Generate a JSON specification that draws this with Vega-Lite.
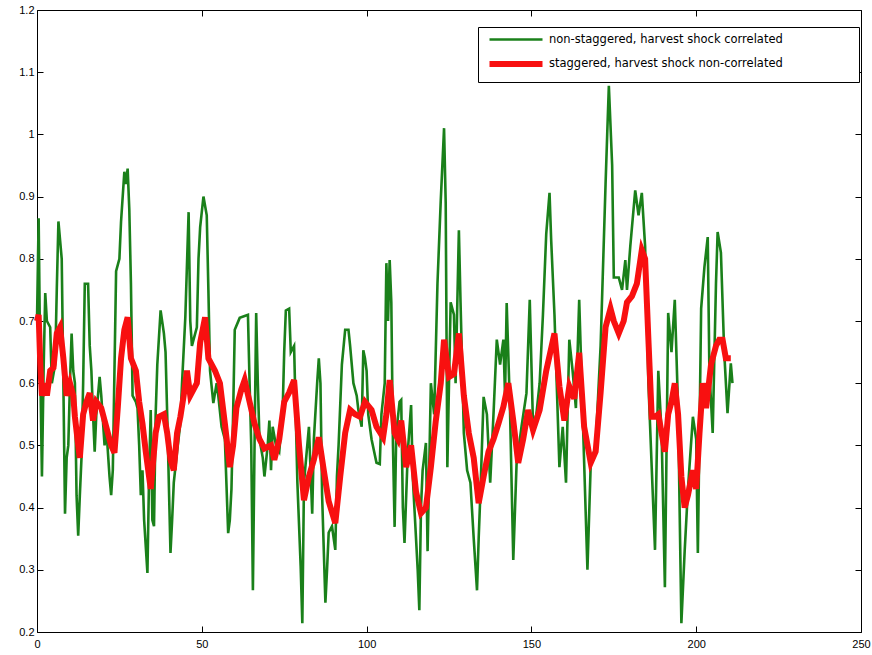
{
"$schema":"https://vega.github.io/schema/vega-lite/v6.json",
"width":824,"height":622,"autosize":"none",
"padding":{"left":37,"top":10,"right":11,"bottom":23},
"background":"white",
"config":{"view":{"stroke":null},"axis":{"grid":false,"domainColor":"#000","domainWidth":1,"tickColor":"#000","tickSize":-6,"tickWidth":1,"labelFont":"Liberation Sans","labelFontSize":11,"labelColor":"#000","title":null}},
"datasets":{"d":[
{"s":"non-staggered, harvest shock correlated","t":0,"v":0.70},{"s":"non-staggered, harvest shock correlated","t":0.5,"v":0.865},{"s":"non-staggered, harvest shock correlated","t":1,"v":0.62},{"s":"non-staggered, harvest shock correlated","t":1.5,"v":0.45},{"s":"non-staggered, harvest shock correlated","t":2,"v":0.62},{"s":"non-staggered, harvest shock correlated","t":2.5,"v":0.745},{"s":"non-staggered, harvest shock correlated","t":3,"v":0.70},{"s":"non-staggered, harvest shock correlated","t":4,"v":0.69},{"s":"non-staggered, harvest shock correlated","t":4.5,"v":0.60},{"s":"non-staggered, harvest shock correlated","t":5.5,"v":0.63},{"s":"non-staggered, harvest shock correlated","t":6,"v":0.75},{"s":"non-staggered, harvest shock correlated","t":6.5,"v":0.86},{"s":"non-staggered, harvest shock correlated","t":7,"v":0.83},{"s":"non-staggered, harvest shock correlated","t":7.5,"v":0.80},{"s":"non-staggered, harvest shock correlated","t":8,"v":0.60},{"s":"non-staggered, harvest shock correlated","t":8.5,"v":0.39},{"s":"non-staggered, harvest shock correlated","t":9,"v":0.48},{"s":"non-staggered, harvest shock correlated","t":9.5,"v":0.50},{"s":"non-staggered, harvest shock correlated","t":10,"v":0.60},{"s":"non-staggered, harvest shock correlated","t":10.5,"v":0.68},{"s":"non-staggered, harvest shock correlated","t":11,"v":0.62},{"s":"non-staggered, harvest shock correlated","t":11.5,"v":0.60},{"s":"non-staggered, harvest shock correlated","t":12,"v":0.42},{"s":"non-staggered, harvest shock correlated","t":12.5,"v":0.355},{"s":"non-staggered, harvest shock correlated","t":13,"v":0.42},{"s":"non-staggered, harvest shock correlated","t":13.5,"v":0.48},{"s":"non-staggered, harvest shock correlated","t":14,"v":0.60},{"s":"non-staggered, harvest shock correlated","t":14.5,"v":0.76},{"s":"non-staggered, harvest shock correlated","t":15,"v":0.76},{"s":"non-staggered, harvest shock correlated","t":15.5,"v":0.76},{"s":"non-staggered, harvest shock correlated","t":16,"v":0.66},{"s":"non-staggered, harvest shock correlated","t":16.5,"v":0.62},{"s":"non-staggered, harvest shock correlated","t":17,"v":0.55},{"s":"non-staggered, harvest shock correlated","t":17.5,"v":0.49},{"s":"non-staggered, harvest shock correlated","t":18,"v":0.55},{"s":"non-staggered, harvest shock correlated","t":19,"v":0.61},{"s":"non-staggered, harvest shock correlated","t":19.5,"v":0.58},{"s":"non-staggered, harvest shock correlated","t":20.5,"v":0.50},{"s":"non-staggered, harvest shock correlated","t":21,"v":0.53},{"s":"non-staggered, harvest shock correlated","t":22,"v":0.45},{"s":"non-staggered, harvest shock correlated","t":22.5,"v":0.42},{"s":"non-staggered, harvest shock correlated","t":23,"v":0.46},{"s":"non-staggered, harvest shock correlated","t":24,"v":0.78},{"s":"non-staggered, harvest shock correlated","t":25,"v":0.80},{"s":"non-staggered, harvest shock correlated","t":25.5,"v":0.86},{"s":"non-staggered, harvest shock correlated","t":26.5,"v":0.94},{"s":"non-staggered, harvest shock correlated","t":27,"v":0.92},{"s":"non-staggered, harvest shock correlated","t":27.5,"v":0.945},{"s":"non-staggered, harvest shock correlated","t":28,"v":0.88},{"s":"non-staggered, harvest shock correlated","t":28.5,"v":0.76},{"s":"non-staggered, harvest shock correlated","t":29,"v":0.58},{"s":"non-staggered, harvest shock correlated","t":30,"v":0.57},{"s":"non-staggered, harvest shock correlated","t":30.5,"v":0.56},{"s":"non-staggered, harvest shock correlated","t":31,"v":0.50},{"s":"non-staggered, harvest shock correlated","t":31.5,"v":0.42},{"s":"non-staggered, harvest shock correlated","t":32,"v":0.46},{"s":"non-staggered, harvest shock correlated","t":32.5,"v":0.38},{"s":"non-staggered, harvest shock correlated","t":33.5,"v":0.295},{"s":"non-staggered, harvest shock correlated","t":34,"v":0.45},{"s":"non-staggered, harvest shock correlated","t":34.5,"v":0.557},{"s":"non-staggered, harvest shock correlated","t":35,"v":0.38},{"s":"non-staggered, harvest shock correlated","t":35.5,"v":0.37},{"s":"non-staggered, harvest shock correlated","t":36,"v":0.55},{"s":"non-staggered, harvest shock correlated","t":36.5,"v":0.63},{"s":"non-staggered, harvest shock correlated","t":37.5,"v":0.717},{"s":"non-staggered, harvest shock correlated","t":38.5,"v":0.68},{"s":"non-staggered, harvest shock correlated","t":39,"v":0.65},{"s":"non-staggered, harvest shock correlated","t":39.5,"v":0.55},{"s":"non-staggered, harvest shock correlated","t":40.5,"v":0.327},{"s":"non-staggered, harvest shock correlated","t":41,"v":0.38},{"s":"non-staggered, harvest shock correlated","t":41.5,"v":0.44},{"s":"non-staggered, harvest shock correlated","t":42.5,"v":0.49},{"s":"non-staggered, harvest shock correlated","t":43.5,"v":0.536},{"s":"non-staggered, harvest shock correlated","t":44,"v":0.60},{"s":"non-staggered, harvest shock correlated","t":45,"v":0.706},{"s":"non-staggered, harvest shock correlated","t":46,"v":0.875},{"s":"non-staggered, harvest shock correlated","t":46.5,"v":0.70},{"s":"non-staggered, harvest shock correlated","t":47,"v":0.66},{"s":"non-staggered, harvest shock correlated","t":47.5,"v":0.67},{"s":"non-staggered, harvest shock correlated","t":48.5,"v":0.69},{"s":"non-staggered, harvest shock correlated","t":49,"v":0.80},{"s":"non-staggered, harvest shock correlated","t":49.5,"v":0.851},{"s":"non-staggered, harvest shock correlated","t":50.5,"v":0.90},{"s":"non-staggered, harvest shock correlated","t":51.5,"v":0.87},{"s":"non-staggered, harvest shock correlated","t":52,"v":0.75},{"s":"non-staggered, harvest shock correlated","t":52.5,"v":0.62},{"s":"non-staggered, harvest shock correlated","t":53.5,"v":0.568},{"s":"non-staggered, harvest shock correlated","t":54.5,"v":0.60},{"s":"non-staggered, harvest shock correlated","t":55,"v":0.58},{"s":"non-staggered, harvest shock correlated","t":56,"v":0.53},{"s":"non-staggered, harvest shock correlated","t":57,"v":0.51},{"s":"non-staggered, harvest shock correlated","t":58,"v":0.359},{"s":"non-staggered, harvest shock correlated","t":58.5,"v":0.38},{"s":"non-staggered, harvest shock correlated","t":59,"v":0.43},{"s":"non-staggered, harvest shock correlated","t":59.5,"v":0.55},{"s":"non-staggered, harvest shock correlated","t":60,"v":0.686},{"s":"non-staggered, harvest shock correlated","t":61.5,"v":0.705},{"s":"non-staggered, harvest shock correlated","t":63,"v":0.708},{"s":"non-staggered, harvest shock correlated","t":64,"v":0.71},{"s":"non-staggered, harvest shock correlated","t":64.5,"v":0.60},{"s":"non-staggered, harvest shock correlated","t":65,"v":0.50},{"s":"non-staggered, harvest shock correlated","t":65.5,"v":0.267},{"s":"non-staggered, harvest shock correlated","t":66,"v":0.50},{"s":"non-staggered, harvest shock correlated","t":66.5,"v":0.713},{"s":"non-staggered, harvest shock correlated","t":67,"v":0.60},{"s":"non-staggered, harvest shock correlated","t":67.5,"v":0.51},{"s":"non-staggered, harvest shock correlated","t":68.5,"v":0.48},{"s":"non-staggered, harvest shock correlated","t":69,"v":0.45},{"s":"non-staggered, harvest shock correlated","t":70,"v":0.50},{"s":"non-staggered, harvest shock correlated","t":70.5,"v":0.54},{"s":"non-staggered, harvest shock correlated","t":71,"v":0.46},{"s":"non-staggered, harvest shock correlated","t":71.5,"v":0.53},{"s":"non-staggered, harvest shock correlated","t":72.5,"v":0.50},{"s":"non-staggered, harvest shock correlated","t":73.5,"v":0.49},{"s":"non-staggered, harvest shock correlated","t":74.5,"v":0.55},{"s":"non-staggered, harvest shock correlated","t":75,"v":0.65},{"s":"non-staggered, harvest shock correlated","t":75.5,"v":0.717},{"s":"non-staggered, harvest shock correlated","t":76.5,"v":0.72},{"s":"non-staggered, harvest shock correlated","t":77,"v":0.65},{"s":"non-staggered, harvest shock correlated","t":78,"v":0.66},{"s":"non-staggered, harvest shock correlated","t":78.5,"v":0.55},{"s":"non-staggered, harvest shock correlated","t":79,"v":0.44},{"s":"non-staggered, harvest shock correlated","t":80,"v":0.305},{"s":"non-staggered, harvest shock correlated","t":80.5,"v":0.214},{"s":"non-staggered, harvest shock correlated","t":81,"v":0.44},{"s":"non-staggered, harvest shock correlated","t":82,"v":0.50},{"s":"non-staggered, harvest shock correlated","t":82.5,"v":0.53},{"s":"non-staggered, harvest shock correlated","t":83.5,"v":0.39},{"s":"non-staggered, harvest shock correlated","t":84,"v":0.51},{"s":"non-staggered, harvest shock correlated","t":85,"v":0.60},{"s":"non-staggered, harvest shock correlated","t":85.5,"v":0.64},{"s":"non-staggered, harvest shock correlated","t":86,"v":0.60},{"s":"non-staggered, harvest shock correlated","t":86.5,"v":0.42},{"s":"non-staggered, harvest shock correlated","t":87.5,"v":0.247},{"s":"non-staggered, harvest shock correlated","t":88,"v":0.30},{"s":"non-staggered, harvest shock correlated","t":88.5,"v":0.36},{"s":"non-staggered, harvest shock correlated","t":89.5,"v":0.37},{"s":"non-staggered, harvest shock correlated","t":90.5,"v":0.332},{"s":"non-staggered, harvest shock correlated","t":91,"v":0.45},{"s":"non-staggered, harvest shock correlated","t":91.5,"v":0.50},{"s":"non-staggered, harvest shock correlated","t":92.5,"v":0.63},{"s":"non-staggered, harvest shock correlated","t":93.5,"v":0.686},{"s":"non-staggered, harvest shock correlated","t":94.5,"v":0.686},{"s":"non-staggered, harvest shock correlated","t":95,"v":0.66},{"s":"non-staggered, harvest shock correlated","t":96,"v":0.60},{"s":"non-staggered, harvest shock correlated","t":97,"v":0.58},{"s":"non-staggered, harvest shock correlated","t":97.5,"v":0.557},{"s":"non-staggered, harvest shock correlated","t":98.5,"v":0.53},{"s":"non-staggered, harvest shock correlated","t":99,"v":0.653},{"s":"non-staggered, harvest shock correlated","t":99.5,"v":0.64},{"s":"non-staggered, harvest shock correlated","t":100,"v":0.62},{"s":"non-staggered, harvest shock correlated","t":100.5,"v":0.55},{"s":"non-staggered, harvest shock correlated","t":101.5,"v":0.51},{"s":"non-staggered, harvest shock correlated","t":103,"v":0.472},{"s":"non-staggered, harvest shock correlated","t":104,"v":0.47},{"s":"non-staggered, harvest shock correlated","t":104.5,"v":0.55},{"s":"non-staggered, harvest shock correlated","t":105.5,"v":0.60},{"s":"non-staggered, harvest shock correlated","t":106,"v":0.793},{"s":"non-staggered, harvest shock correlated","t":106.5,"v":0.70},{"s":"non-staggered, harvest shock correlated","t":107,"v":0.798},{"s":"non-staggered, harvest shock correlated","t":107.5,"v":0.73},{"s":"non-staggered, harvest shock correlated","t":108,"v":0.50},{"s":"non-staggered, harvest shock correlated","t":108.5,"v":0.369},{"s":"non-staggered, harvest shock correlated","t":109,"v":0.52},{"s":"non-staggered, harvest shock correlated","t":110,"v":0.57},{"s":"non-staggered, harvest shock correlated","t":110.5,"v":0.573},{"s":"non-staggered, harvest shock correlated","t":111,"v":0.40},{"s":"non-staggered, harvest shock correlated","t":111.5,"v":0.343},{"s":"non-staggered, harvest shock correlated","t":112.5,"v":0.49},{"s":"non-staggered, harvest shock correlated","t":113.5,"v":0.565},{"s":"non-staggered, harvest shock correlated","t":114,"v":0.45},{"s":"non-staggered, harvest shock correlated","t":114.5,"v":0.40},{"s":"non-staggered, harvest shock correlated","t":115.5,"v":0.30},{"s":"non-staggered, harvest shock correlated","t":116,"v":0.235},{"s":"non-staggered, harvest shock correlated","t":116.5,"v":0.40},{"s":"non-staggered, harvest shock correlated","t":117,"v":0.46},{"s":"non-staggered, harvest shock correlated","t":118,"v":0.504},{"s":"non-staggered, harvest shock correlated","t":118.5,"v":0.33},{"s":"non-staggered, harvest shock correlated","t":119.5,"v":0.60},{"s":"non-staggered, harvest shock correlated","t":120.5,"v":0.55},{"s":"non-staggered, harvest shock correlated","t":121.5,"v":0.76},{"s":"non-staggered, harvest shock correlated","t":122.5,"v":0.894},{"s":"non-staggered, harvest shock correlated","t":123.5,"v":1.01},{"s":"non-staggered, harvest shock correlated","t":124,"v":0.89},{"s":"non-staggered, harvest shock correlated","t":124.5,"v":0.465},{"s":"non-staggered, harvest shock correlated","t":125,"v":0.60},{"s":"non-staggered, harvest shock correlated","t":125.5,"v":0.73},{"s":"non-staggered, harvest shock correlated","t":126.5,"v":0.71},{"s":"non-staggered, harvest shock correlated","t":127,"v":0.60},{"s":"non-staggered, harvest shock correlated","t":128,"v":0.846},{"s":"non-staggered, harvest shock correlated","t":128.5,"v":0.73},{"s":"non-staggered, harvest shock correlated","t":129.5,"v":0.52},{"s":"non-staggered, harvest shock correlated","t":130.5,"v":0.46},{"s":"non-staggered, harvest shock correlated","t":131.5,"v":0.44},{"s":"non-staggered, harvest shock correlated","t":132.5,"v":0.35},{"s":"non-staggered, harvest shock correlated","t":133.5,"v":0.267},{"s":"non-staggered, harvest shock correlated","t":134,"v":0.35},{"s":"non-staggered, harvest shock correlated","t":134.5,"v":0.42},{"s":"non-staggered, harvest shock correlated","t":135.5,"v":0.578},{"s":"non-staggered, harvest shock correlated","t":136.5,"v":0.55},{"s":"non-staggered, harvest shock correlated","t":137.5,"v":0.44},{"s":"non-staggered, harvest shock correlated","t":138.5,"v":0.55},{"s":"non-staggered, harvest shock correlated","t":139.5,"v":0.67},{"s":"non-staggered, harvest shock correlated","t":140.5,"v":0.63},{"s":"non-staggered, harvest shock correlated","t":141.5,"v":0.67},{"s":"non-staggered, harvest shock correlated","t":142,"v":0.58},{"s":"non-staggered, harvest shock correlated","t":142.5,"v":0.729},{"s":"non-staggered, harvest shock correlated","t":143.5,"v":0.56},{"s":"non-staggered, harvest shock correlated","t":144.5,"v":0.316},{"s":"non-staggered, harvest shock correlated","t":145.5,"v":0.47},{"s":"non-staggered, harvest shock correlated","t":147,"v":0.53},{"s":"non-staggered, harvest shock correlated","t":148.5,"v":0.584},{"s":"non-staggered, harvest shock correlated","t":149.5,"v":0.734},{"s":"non-staggered, harvest shock correlated","t":150.5,"v":0.53},{"s":"non-staggered, harvest shock correlated","t":151.5,"v":0.55},{"s":"non-staggered, harvest shock correlated","t":152.5,"v":0.60},{"s":"non-staggered, harvest shock correlated","t":153.5,"v":0.71},{"s":"non-staggered, harvest shock correlated","t":154.5,"v":0.84},{"s":"non-staggered, harvest shock correlated","t":155.5,"v":0.906},{"s":"non-staggered, harvest shock correlated","t":156,"v":0.83},{"s":"non-staggered, harvest shock correlated","t":157,"v":0.71},{"s":"non-staggered, harvest shock correlated","t":158.5,"v":0.465},{"s":"non-staggered, harvest shock correlated","t":159.5,"v":0.53},{"s":"non-staggered, harvest shock correlated","t":160.5,"v":0.44},{"s":"non-staggered, harvest shock correlated","t":161.5,"v":0.67},{"s":"non-staggered, harvest shock correlated","t":162.5,"v":0.62},{"s":"non-staggered, harvest shock correlated","t":163.5,"v":0.56},{"s":"non-staggered, harvest shock correlated","t":164.5,"v":0.734},{"s":"non-staggered, harvest shock correlated","t":165.5,"v":0.56},{"s":"non-staggered, harvest shock correlated","t":167,"v":0.30},{"s":"non-staggered, harvest shock correlated","t":168,"v":0.47},{"s":"non-staggered, harvest shock correlated","t":169.5,"v":0.50},{"s":"non-staggered, harvest shock correlated","t":171,"v":0.66},{"s":"non-staggered, harvest shock correlated","t":172.5,"v":0.92},{"s":"non-staggered, harvest shock correlated","t":173,"v":1.0},{"s":"non-staggered, harvest shock correlated","t":173.5,"v":1.078},{"s":"non-staggered, harvest shock correlated","t":174.5,"v":0.95},{"s":"non-staggered, harvest shock correlated","t":175,"v":0.77},{"s":"non-staggered, harvest shock correlated","t":176.5,"v":0.77},{"s":"non-staggered, harvest shock correlated","t":177.5,"v":0.75},{"s":"non-staggered, harvest shock correlated","t":178.5,"v":0.798},{"s":"non-staggered, harvest shock correlated","t":179,"v":0.75},{"s":"non-staggered, harvest shock correlated","t":180,"v":0.82},{"s":"non-staggered, harvest shock correlated","t":181.5,"v":0.91},{"s":"non-staggered, harvest shock correlated","t":182.5,"v":0.87},{"s":"non-staggered, harvest shock correlated","t":183.5,"v":0.906},{"s":"non-staggered, harvest shock correlated","t":184.5,"v":0.82},{"s":"non-staggered, harvest shock correlated","t":185.5,"v":0.60},{"s":"non-staggered, harvest shock correlated","t":186.5,"v":0.465},{"s":"non-staggered, harvest shock correlated","t":187.5,"v":0.332},{"s":"non-staggered, harvest shock correlated","t":188.5,"v":0.62},{"s":"non-staggered, harvest shock correlated","t":189.5,"v":0.52},{"s":"non-staggered, harvest shock correlated","t":190.5,"v":0.272},{"s":"non-staggered, harvest shock correlated","t":191.5,"v":0.713},{"s":"non-staggered, harvest shock correlated","t":192.5,"v":0.65},{"s":"non-staggered, harvest shock correlated","t":193.5,"v":0.734},{"s":"non-staggered, harvest shock correlated","t":194.5,"v":0.56},{"s":"non-staggered, harvest shock correlated","t":195.5,"v":0.214},{"s":"non-staggered, harvest shock correlated","t":196.5,"v":0.33},{"s":"non-staggered, harvest shock correlated","t":197.5,"v":0.43},{"s":"non-staggered, harvest shock correlated","t":199,"v":0.546},{"s":"non-staggered, harvest shock correlated","t":200,"v":0.51},{"s":"non-staggered, harvest shock correlated","t":200.5,"v":0.327},{"s":"non-staggered, harvest shock correlated","t":201.5,"v":0.72},{"s":"non-staggered, harvest shock correlated","t":202.5,"v":0.787},{"s":"non-staggered, harvest shock correlated","t":203.5,"v":0.835},{"s":"non-staggered, harvest shock correlated","t":204,"v":0.62},{"s":"non-staggered, harvest shock correlated","t":205,"v":0.52},{"s":"non-staggered, harvest shock correlated","t":206,"v":0.76},{"s":"non-staggered, harvest shock correlated","t":206.5,"v":0.843},{"s":"non-staggered, harvest shock correlated","t":207.5,"v":0.81},{"s":"non-staggered, harvest shock correlated","t":208.5,"v":0.65},{"s":"non-staggered, harvest shock correlated","t":209.5,"v":0.552},{"s":"non-staggered, harvest shock correlated","t":210.5,"v":0.632},{"s":"non-staggered, harvest shock correlated","t":211,"v":0.60},
{"s":"staggered, harvest shock non-correlated","t":0,"v":0.70},{"s":"staggered, harvest shock non-correlated","t":0.5,"v":0.71},{"s":"staggered, harvest shock non-correlated","t":1,"v":0.63},{"s":"staggered, harvest shock non-correlated","t":1.5,"v":0.58},{"s":"staggered, harvest shock non-correlated","t":2.5,"v":0.60},{"s":"staggered, harvest shock non-correlated","t":3,"v":0.58},{"s":"staggered, harvest shock non-correlated","t":4,"v":0.62},{"s":"staggered, harvest shock non-correlated","t":5,"v":0.625},{"s":"staggered, harvest shock non-correlated","t":6,"v":0.68},{"s":"staggered, harvest shock non-correlated","t":7,"v":0.69},{"s":"staggered, harvest shock non-correlated","t":8,"v":0.64},{"s":"staggered, harvest shock non-correlated","t":9,"v":0.58},{"s":"staggered, harvest shock non-correlated","t":10,"v":0.60},{"s":"staggered, harvest shock non-correlated","t":11,"v":0.58},{"s":"staggered, harvest shock non-correlated","t":11.5,"v":0.546},{"s":"staggered, harvest shock non-correlated","t":12.5,"v":0.50},{"s":"staggered, harvest shock non-correlated","t":13,"v":0.48},{"s":"staggered, harvest shock non-correlated","t":14,"v":0.55},{"s":"staggered, harvest shock non-correlated","t":15,"v":0.57},{"s":"staggered, harvest shock non-correlated","t":16,"v":0.584},{"s":"staggered, harvest shock non-correlated","t":17,"v":0.54},{"s":"staggered, harvest shock non-correlated","t":18,"v":0.57},{"s":"staggered, harvest shock non-correlated","t":19.5,"v":0.56},{"s":"staggered, harvest shock non-correlated","t":21,"v":0.53},{"s":"staggered, harvest shock non-correlated","t":22.5,"v":0.50},{"s":"staggered, harvest shock non-correlated","t":23.5,"v":0.488},{"s":"staggered, harvest shock non-correlated","t":24.5,"v":0.56},{"s":"staggered, harvest shock non-correlated","t":25.5,"v":0.64},{"s":"staggered, harvest shock non-correlated","t":26.5,"v":0.686},{"s":"staggered, harvest shock non-correlated","t":27.5,"v":0.706},{"s":"staggered, harvest shock non-correlated","t":28.5,"v":0.64},{"s":"staggered, harvest shock non-correlated","t":30,"v":0.62},{"s":"staggered, harvest shock non-correlated","t":31,"v":0.57},{"s":"staggered, harvest shock non-correlated","t":32,"v":0.535},{"s":"staggered, harvest shock non-correlated","t":33,"v":0.49},{"s":"staggered, harvest shock non-correlated","t":34,"v":0.45},{"s":"staggered, harvest shock non-correlated","t":34.5,"v":0.43},{"s":"staggered, harvest shock non-correlated","t":35,"v":0.46},{"s":"staggered, harvest shock non-correlated","t":36,"v":0.52},{"s":"staggered, harvest shock non-correlated","t":37,"v":0.546},{"s":"staggered, harvest shock non-correlated","t":38.5,"v":0.55},{"s":"staggered, harvest shock non-correlated","t":39.5,"v":0.52},{"s":"staggered, harvest shock non-correlated","t":40.5,"v":0.477},{"s":"staggered, harvest shock non-correlated","t":41.5,"v":0.46},{"s":"staggered, harvest shock non-correlated","t":42.5,"v":0.52},{"s":"staggered, harvest shock non-correlated","t":43.5,"v":0.546},{"s":"staggered, harvest shock non-correlated","t":44.5,"v":0.58},{"s":"staggered, harvest shock non-correlated","t":45.5,"v":0.62},{"s":"staggered, harvest shock non-correlated","t":46.5,"v":0.58},{"s":"staggered, harvest shock non-correlated","t":47.5,"v":0.59},{"s":"staggered, harvest shock non-correlated","t":48.5,"v":0.60},{"s":"staggered, harvest shock non-correlated","t":49.5,"v":0.665},{"s":"staggered, harvest shock non-correlated","t":51,"v":0.706},{"s":"staggered, harvest shock non-correlated","t":52,"v":0.64},{"s":"staggered, harvest shock non-correlated","t":54,"v":0.62},{"s":"staggered, harvest shock non-correlated","t":55.5,"v":0.60},{"s":"staggered, harvest shock non-correlated","t":57,"v":0.535},{"s":"staggered, harvest shock non-correlated","t":58.5,"v":0.465},{"s":"staggered, harvest shock non-correlated","t":59.5,"v":0.50},{"s":"staggered, harvest shock non-correlated","t":60.5,"v":0.56},{"s":"staggered, harvest shock non-correlated","t":62,"v":0.59},{"s":"staggered, harvest shock non-correlated","t":63,"v":0.605},{"s":"staggered, harvest shock non-correlated","t":64.5,"v":0.57},{"s":"staggered, harvest shock non-correlated","t":66,"v":0.535},{"s":"staggered, harvest shock non-correlated","t":67.5,"v":0.51},{"s":"staggered, harvest shock non-correlated","t":69,"v":0.495},{"s":"staggered, harvest shock non-correlated","t":71,"v":0.50},{"s":"staggered, harvest shock non-correlated","t":72,"v":0.477},{"s":"staggered, harvest shock non-correlated","t":73.5,"v":0.51},{"s":"staggered, harvest shock non-correlated","t":75,"v":0.57},{"s":"staggered, harvest shock non-correlated","t":76.5,"v":0.585},{"s":"staggered, harvest shock non-correlated","t":78,"v":0.605},{"s":"staggered, harvest shock non-correlated","t":79.5,"v":0.50},{"s":"staggered, harvest shock non-correlated","t":81,"v":0.412},{"s":"staggered, harvest shock non-correlated","t":82.5,"v":0.45},{"s":"staggered, harvest shock non-correlated","t":84,"v":0.477},{"s":"staggered, harvest shock non-correlated","t":85.5,"v":0.513},{"s":"staggered, harvest shock non-correlated","t":87,"v":0.46},{"s":"staggered, harvest shock non-correlated","t":88.5,"v":0.41},{"s":"staggered, harvest shock non-correlated","t":90.5,"v":0.375},{"s":"staggered, harvest shock non-correlated","t":92,"v":0.45},{"s":"staggered, harvest shock non-correlated","t":93.5,"v":0.52},{"s":"staggered, harvest shock non-correlated","t":95,"v":0.557},{"s":"staggered, harvest shock non-correlated","t":96.5,"v":0.55},{"s":"staggered, harvest shock non-correlated","t":98,"v":0.546},{"s":"staggered, harvest shock non-correlated","t":99.5,"v":0.57},{"s":"staggered, harvest shock non-correlated","t":101.5,"v":0.557},{"s":"staggered, harvest shock non-correlated","t":103,"v":0.53},{"s":"staggered, harvest shock non-correlated","t":105,"v":0.513},{"s":"staggered, harvest shock non-correlated","t":106,"v":0.55},{"s":"staggered, harvest shock non-correlated","t":107,"v":0.605},{"s":"staggered, harvest shock non-correlated","t":108.5,"v":0.52},{"s":"staggered, harvest shock non-correlated","t":109.5,"v":0.51},{"s":"staggered, harvest shock non-correlated","t":110.5,"v":0.54},{"s":"staggered, harvest shock non-correlated","t":112,"v":0.465},{"s":"staggered, harvest shock non-correlated","t":113.5,"v":0.50},{"s":"staggered, harvest shock non-correlated","t":115,"v":0.425},{"s":"staggered, harvest shock non-correlated","t":116.5,"v":0.391},{"s":"staggered, harvest shock non-correlated","t":118,"v":0.40},{"s":"staggered, harvest shock non-correlated","t":119.5,"v":0.465},{"s":"staggered, harvest shock non-correlated","t":121,"v":0.54},{"s":"staggered, harvest shock non-correlated","t":122.5,"v":0.60},{"s":"staggered, harvest shock non-correlated","t":123.5,"v":0.67},{"s":"staggered, harvest shock non-correlated","t":125,"v":0.61},{"s":"staggered, harvest shock non-correlated","t":126.5,"v":0.615},{"s":"staggered, harvest shock non-correlated","t":128,"v":0.68},{"s":"staggered, harvest shock non-correlated","t":129.5,"v":0.58},{"s":"staggered, harvest shock non-correlated","t":131,"v":0.52},{"s":"staggered, harvest shock non-correlated","t":132.5,"v":0.48},{"s":"staggered, harvest shock non-correlated","t":134,"v":0.407},{"s":"staggered, harvest shock non-correlated","t":135.5,"v":0.45},{"s":"staggered, harvest shock non-correlated","t":137,"v":0.49},{"s":"staggered, harvest shock non-correlated","t":138.5,"v":0.51},{"s":"staggered, harvest shock non-correlated","t":140,"v":0.535},{"s":"staggered, harvest shock non-correlated","t":141.5,"v":0.562},{"s":"staggered, harvest shock non-correlated","t":143,"v":0.60},{"s":"staggered, harvest shock non-correlated","t":144.5,"v":0.54},{"s":"staggered, harvest shock non-correlated","t":146,"v":0.472},{"s":"staggered, harvest shock non-correlated","t":147.5,"v":0.51},{"s":"staggered, harvest shock non-correlated","t":149,"v":0.557},{"s":"staggered, harvest shock non-correlated","t":150.5,"v":0.525},{"s":"staggered, harvest shock non-correlated","t":152.5,"v":0.557},{"s":"staggered, harvest shock non-correlated","t":154.5,"v":0.62},{"s":"staggered, harvest shock non-correlated","t":157,"v":0.68},{"s":"staggered, harvest shock non-correlated","t":158.5,"v":0.595},{"s":"staggered, harvest shock non-correlated","t":160,"v":0.54},{"s":"staggered, harvest shock non-correlated","t":161.5,"v":0.595},{"s":"staggered, harvest shock non-correlated","t":163,"v":0.575},{"s":"staggered, harvest shock non-correlated","t":164.5,"v":0.649},{"s":"staggered, harvest shock non-correlated","t":166,"v":0.53},{"s":"staggered, harvest shock non-correlated","t":168,"v":0.472},{"s":"staggered, harvest shock non-correlated","t":169.5,"v":0.49},{"s":"staggered, harvest shock non-correlated","t":171,"v":0.585},{"s":"staggered, harvest shock non-correlated","t":172.5,"v":0.69},{"s":"staggered, harvest shock non-correlated","t":174,"v":0.72},{"s":"staggered, harvest shock non-correlated","t":175,"v":0.70},{"s":"staggered, harvest shock non-correlated","t":176.5,"v":0.68},{"s":"staggered, harvest shock non-correlated","t":178,"v":0.70},{"s":"staggered, harvest shock non-correlated","t":179,"v":0.73},{"s":"staggered, harvest shock non-correlated","t":180.5,"v":0.74},{"s":"staggered, harvest shock non-correlated","t":182,"v":0.76},{"s":"staggered, harvest shock non-correlated","t":183.5,"v":0.814},{"s":"staggered, harvest shock non-correlated","t":184.5,"v":0.80},{"s":"staggered, harvest shock non-correlated","t":185.5,"v":0.67},{"s":"staggered, harvest shock non-correlated","t":186.5,"v":0.546},{"s":"staggered, harvest shock non-correlated","t":187.5,"v":0.546},{"s":"staggered, harvest shock non-correlated","t":188.5,"v":0.55},{"s":"staggered, harvest shock non-correlated","t":189.5,"v":0.52},{"s":"staggered, harvest shock non-correlated","t":190.5,"v":0.49},{"s":"staggered, harvest shock non-correlated","t":191.5,"v":0.55},{"s":"staggered, harvest shock non-correlated","t":192.5,"v":0.57},{"s":"staggered, harvest shock non-correlated","t":193.5,"v":0.60},{"s":"staggered, harvest shock non-correlated","t":194.5,"v":0.55},{"s":"staggered, harvest shock non-correlated","t":195.5,"v":0.45},{"s":"staggered, harvest shock non-correlated","t":196.5,"v":0.40},{"s":"staggered, harvest shock non-correlated","t":197.5,"v":0.42},{"s":"staggered, harvest shock non-correlated","t":199,"v":0.46},{"s":"staggered, harvest shock non-correlated","t":200,"v":0.43},{"s":"staggered, harvest shock non-correlated","t":201,"v":0.52},{"s":"staggered, harvest shock non-correlated","t":202,"v":0.60},{"s":"staggered, harvest shock non-correlated","t":203,"v":0.56},{"s":"staggered, harvest shock non-correlated","t":204.5,"v":0.63},{"s":"staggered, harvest shock non-correlated","t":206,"v":0.66},{"s":"staggered, harvest shock non-correlated","t":207,"v":0.67},{"s":"staggered, harvest shock non-correlated","t":208,"v":0.67},{"s":"staggered, harvest shock non-correlated","t":209,"v":0.64},{"s":"staggered, harvest shock non-correlated","t":210.5,"v":0.64}
]},
"data":{"name":"d"},
"layer":[
{"mark":{"type":"line","strokeJoin":"miter"},
 "encoding":{
  "x":{"field":"t","type":"quantitative","scale":{"domain":[0,250],"nice":false},"axis":{"orient":"bottom","values":[0,50,100,150,200,250],"labelPadding":12,"labelFlush":false}},
  "y":{"field":"v","type":"quantitative","scale":{"domain":[0.2,1.2],"nice":false,"zero":false},"axis":{"orient":"left","values":[0.2,0.3,0.4,0.5,0.6,0.7,0.8,0.9,1,1.1,1.2],"labelExpr":"format(datum.value, '~g')","labelPadding":9,"labelFlush":false}},
  "color":{"field":"s","type":"nominal","scale":{"domain":["non-staggered, harvest shock correlated","staggered, harvest shock non-correlated"],"range":["#1a801a","#f81010"]},
   "legend":{"title":null,"orient":"none","legendX":441,"legendY":17,"direction":"vertical","fillColor":"white","strokeColor":"#000","padding":6,"symbolType":"M-5.3,0H5.3","symbolSize":100,"symbolOffset":24,"labelOffset":25,"rowPadding":7,"labelFont":"DejaVu Sans","labelFontSize":11.5,"labelColor":"#000","labelLimit":0,"labelExpr":"datum.label + '\u00a0\u00a0\u00a0\u00a0\u00a0\u00a0\u00a0\u00a0\u00a0\u00a0\u00a0\u00a0\u00a0\u00a0\u00a0\u00a0\u00a0\u00a0\u00a0\u200b'"}},
  "strokeWidth":{"field":"s","type":"nominal","scale":{"domain":["non-staggered, harvest shock correlated","staggered, harvest shock non-correlated"],"range":[2.6,6]},
   "legend":{"title":null,"orient":"none","legendX":441,"legendY":17,"direction":"vertical","fillColor":"white","strokeColor":"#000","padding":6,"symbolType":"M-5.3,0H5.3","symbolSize":100,"symbolOffset":24,"labelOffset":25,"rowPadding":7,"labelFont":"DejaVu Sans","labelFontSize":11.5,"labelColor":"#000","labelLimit":0,"labelExpr":"datum.label + '\u00a0\u00a0\u00a0\u00a0\u00a0\u00a0\u00a0\u00a0\u00a0\u00a0\u00a0\u00a0\u00a0\u00a0\u00a0\u00a0\u00a0\u00a0\u00a0\u200b'"}}
 }},
{"mark":{"type":"line","opacity":0},
 "encoding":{
  "x":{"field":"t","type":"quantitative","scale":{"domain":[0,250],"nice":false},"axis":{"orient":"top","values":[0,50,100,150,200,250],"labels":false}},
  "y":{"field":"v","type":"quantitative","scale":{"domain":[0.2,1.2],"nice":false,"zero":false},"axis":{"orient":"right","values":[0.2,0.3,0.4,0.5,0.6,0.7,0.8,0.9,1,1.1,1.2],"labels":false}},
  "detail":{"field":"s"}
 }}
],
"resolve":{"axis":{"x":"independent","y":"independent"}}
}
